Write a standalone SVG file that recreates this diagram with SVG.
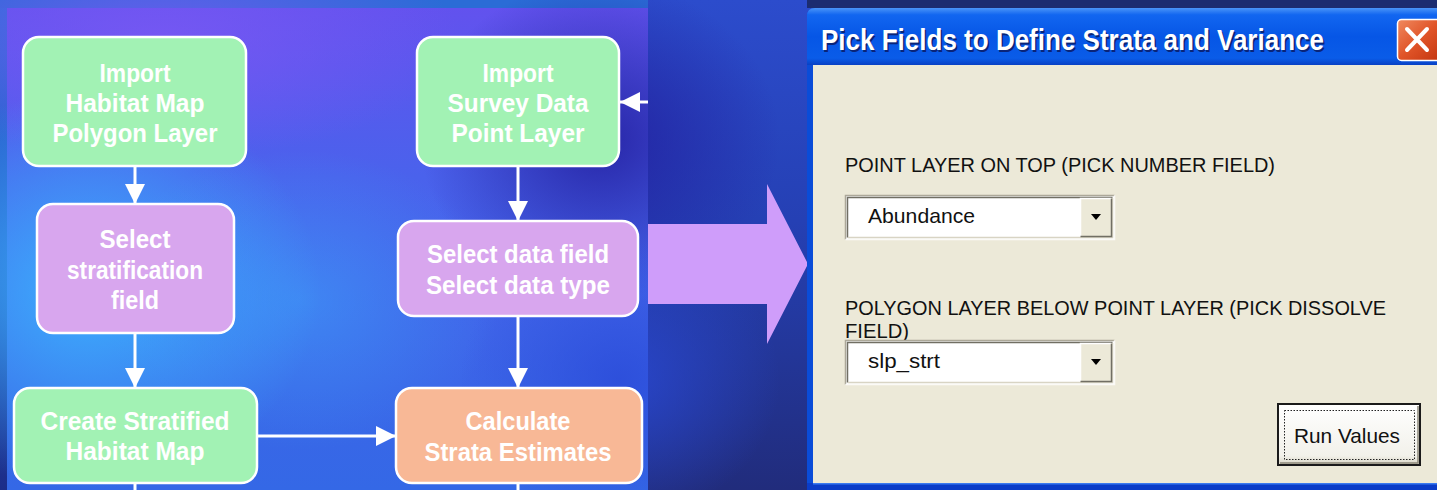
<svg xmlns="http://www.w3.org/2000/svg" width="1437" height="490" viewBox="0 0 1437 490">
  <defs>
    <linearGradient id="pageBg" x1="0" y1="0" x2="0" y2="1">
      <stop offset="0" stop-color="#2c4ccc"/>
      <stop offset="0.45" stop-color="#2540b4"/>
      <stop offset="1" stop-color="#212c7c"/>
    </linearGradient>
    <linearGradient id="edgeBg" x1="0" y1="0" x2="0" y2="1">
      <stop offset="0" stop-color="#2a70d8"/>
      <stop offset="0.5" stop-color="#2a58c8"/>
      <stop offset="1" stop-color="#1c2c88"/>
    </linearGradient>
    <linearGradient id="panelBase" x1="0" y1="0" x2="0" y2="1">
      <stop offset="0" stop-color="#6252ee"/>
      <stop offset="0.35" stop-color="#4a62ec"/>
      <stop offset="1" stop-color="#3468e6"/>
    </linearGradient>
    <radialGradient id="glowCyan" cx="0.5" cy="0.5" r="0.5">
      <stop offset="0" stop-color="#3cb4ff" stop-opacity="0.95"/>
      <stop offset="1" stop-color="#3cb4ff" stop-opacity="0"/>
    </radialGradient>
    <radialGradient id="glowDark" cx="0.5" cy="0.5" r="0.5">
      <stop offset="0" stop-color="#2320a0" stop-opacity="0.9"/>
      <stop offset="1" stop-color="#2320a0" stop-opacity="0"/>
    </radialGradient>
    <radialGradient id="glowPurple" cx="0.5" cy="0.5" r="0.5">
      <stop offset="0" stop-color="#7a58f4" stop-opacity="0.8"/>
      <stop offset="1" stop-color="#7a58f4" stop-opacity="0"/>
    </radialGradient>
    <radialGradient id="glowBlue" cx="0.5" cy="0.5" r="0.5">
      <stop offset="0" stop-color="#2a4ad8" stop-opacity="0.8"/>
      <stop offset="1" stop-color="#2a4ad8" stop-opacity="0"/>
    </radialGradient>
    <linearGradient id="titleBar" x1="0" y1="0" x2="0" y2="1">
      <stop offset="0" stop-color="#4a94f8"/>
      <stop offset="0.12" stop-color="#1266f0"/>
      <stop offset="0.5" stop-color="#0656e6"/>
      <stop offset="0.88" stop-color="#0a5ce8"/>
      <stop offset="1" stop-color="#0840c4"/>
    </linearGradient>
    <linearGradient id="closeBtn" x1="0" y1="0" x2="1" y2="1">
      <stop offset="0" stop-color="#f08a60"/>
      <stop offset="0.5" stop-color="#e05428"/>
      <stop offset="1" stop-color="#c2340e"/>
    </linearGradient>
    <linearGradient id="runBtn" x1="0" y1="0" x2="0" y2="1">
      <stop offset="0" stop-color="#ffffff"/>
      <stop offset="0.85" stop-color="#f2f1ea"/>
      <stop offset="1" stop-color="#d8d4c4"/>
    </linearGradient>
    <marker id="arrow" viewBox="0 0 10 10" refX="10" refY="5" markerWidth="20" markerHeight="20" markerUnits="userSpaceOnUse" orient="auto">
      <path d="M0,0 L10,5 L0,10 z" fill="#ffffff"/>
    </marker>
    <style>
      .node rect { stroke: #ffffff; stroke-width: 2.5; }
      .green { fill: #a2f2b4; }
      .purple { fill: #d8a6ee; }
      .orange { fill: #f8b896; }
      .label { font-family: "Liberation Sans", Arial, sans-serif; font-weight: bold; font-size: 26px; fill: #ffffff; text-anchor: middle; }
      .link { fill: none; stroke: #ffffff; stroke-width: 3; }
      .dlg { font-family: "Liberation Sans", Arial, sans-serif; font-size: 21px; fill: #111111; }
      .title { font-family: "Liberation Sans", Arial, sans-serif; font-weight: bold; font-size: 29px; fill: #ffffff; }
    </style>
  </defs>

  <!-- page background -->
  <rect x="0" y="0" width="1437" height="490" fill="url(#pageBg)"/>
  <rect x="0" y="0" width="7" height="490" fill="url(#edgeBg)"/>
  <rect x="0" y="0" width="648" height="8" fill="#2a6cd6"/>
  <rect x="807" y="0" width="630" height="8" fill="#1c2c70"/>

  <!-- flowchart panel backdrop -->
  <g id="panel">
    <rect x="7" y="8" width="641" height="482" fill="url(#panelBase)"/>
    <ellipse cx="160" cy="40" rx="300" ry="120" fill="url(#glowPurple)"/>
    <ellipse cx="90" cy="290" rx="230" ry="200" fill="url(#glowCyan)"/>
    <ellipse cx="300" cy="300" rx="200" ry="150" fill="url(#glowCyan)" opacity="0.45"/>
    <ellipse cx="600" cy="140" rx="180" ry="160" fill="url(#glowDark)"/>
    <ellipse cx="620" cy="380" rx="160" ry="140" fill="url(#glowBlue)"/>
  </g>

  <!-- flowchart steps -->
  <g id="import-habitat" class="node">
    <rect class="green" x="23" y="37" width="223" height="129" rx="16"/>
    <text class="label" x="135" y="82" textLength="71" lengthAdjust="spacingAndGlyphs">Import</text>
    <text class="label" x="135" y="112" textLength="139" lengthAdjust="spacingAndGlyphs">Habitat Map</text>
    <text class="label" x="135" y="142" textLength="165" lengthAdjust="spacingAndGlyphs">Polygon Layer</text>
  </g>
  <g id="import-survey" class="node">
    <rect class="green" x="417" y="37" width="202" height="129" rx="16"/>
    <text class="label" x="518" y="82" textLength="71" lengthAdjust="spacingAndGlyphs">Import</text>
    <text class="label" x="518" y="112" textLength="141" lengthAdjust="spacingAndGlyphs">Survey Data</text>
    <text class="label" x="518" y="142" textLength="133" lengthAdjust="spacingAndGlyphs">Point Layer</text>
  </g>
  <g id="select-strat" class="node">
    <rect class="purple" x="37" y="204" width="197" height="129" rx="16"/>
    <text class="label" x="135" y="248" textLength="71" lengthAdjust="spacingAndGlyphs">Select</text>
    <text class="label" x="135" y="279" textLength="136" lengthAdjust="spacingAndGlyphs">stratification</text>
    <text class="label" x="135" y="309" textLength="48" lengthAdjust="spacingAndGlyphs">field</text>
  </g>
  <g id="select-data" class="node">
    <rect class="purple" x="398" y="221" width="240" height="95" rx="16"/>
    <text class="label" x="518" y="263" textLength="182" lengthAdjust="spacingAndGlyphs">Select data field</text>
    <text class="label" x="518" y="294" textLength="184" lengthAdjust="spacingAndGlyphs">Select data type</text>
  </g>
  <g id="create-map" class="node">
    <rect class="green" x="14" y="388" width="243" height="95" rx="16"/>
    <text class="label" x="135" y="430" textLength="189" lengthAdjust="spacingAndGlyphs">Create Stratified</text>
    <text class="label" x="135" y="460" textLength="139" lengthAdjust="spacingAndGlyphs">Habitat Map</text>
  </g>
  <g id="calc-estimates" class="node">
    <rect class="orange" x="396" y="388" width="246" height="95" rx="16"/>
    <text class="label" x="518" y="430" textLength="105" lengthAdjust="spacingAndGlyphs">Calculate</text>
    <text class="label" x="518" y="461" textLength="187" lengthAdjust="spacingAndGlyphs">Strata Estimates</text>
  </g>

  <!-- connectors -->
  <g id="connectors">
    <path class="link" d="M135,167 V204" marker-end="url(#arrow)"/>
    <path class="link" d="M518,167 V221" marker-end="url(#arrow)"/>
    <path class="link" d="M135,334 V388" marker-end="url(#arrow)"/>
    <path class="link" d="M518,317 V388" marker-end="url(#arrow)"/>
    <path class="link" d="M258,436 H396" marker-end="url(#arrow)"/>
    <path class="link" d="M648,102 H620" marker-end="url(#arrow)"/>
    <path class="link" d="M135,484 V490"/>
    <path class="link" d="M518,484 V490"/>
  </g>

  <!-- block arrow pointing to the dialog -->
  <g id="block-arrow">
    <polygon points="648,224 767,224 767,184 808,264 767,344 767,304 648,304" fill="#cf9dfa"/>
  </g>

  <!-- dialog window -->
  <g id="dialog">
    <path d="M807,490 V16 Q807,8 815,8 H1437 V490 Z" fill="#0a4cd8"/>
    <path d="M807,65 V16 Q807,8 815,8 H1437 V65 Z" fill="url(#titleBar)"/>
    <rect x="813" y="65" width="624" height="418" fill="#ece9d8"/>
    <rect x="807" y="483" width="630" height="7" fill="#0a3cc8"/>
    <rect x="813" y="483" width="624" height="1.5" fill="#3a7af0"/>

    <text class="title" x="822.5" y="51.5" textLength="503" lengthAdjust="spacingAndGlyphs" style="fill:#0a2478">Pick Fields to Define Strata and Variance</text>
    <text class="title" x="821" y="50" textLength="503" lengthAdjust="spacingAndGlyphs">Pick Fields to Define Strata and Variance</text>

    <g id="close-button">
      <rect x="1397.5" y="19.5" width="44" height="41" rx="4" fill="url(#closeBtn)" stroke="#ffffff" stroke-width="1.5"/>
      <path d="M1407,29 L1427,50 M1427,29 L1407,50" stroke="#ffffff" stroke-width="4" stroke-linecap="round"/>
    </g>

    <text class="dlg" x="845" y="172" textLength="430" lengthAdjust="spacingAndGlyphs">POINT LAYER ON TOP (PICK NUMBER FIELD)</text>

    <g id="number-field">
      <rect x="845" y="195" width="270" height="45" fill="#ffffff"/>
      <path d="M845.5,239.5 V195.5 H1114.5" fill="none" stroke="#aca899" stroke-width="1.5"/>
      <path d="M847.5,237.5 V197.5 H1112.5" fill="none" stroke="#716f64" stroke-width="1.5"/>
      <path d="M845.5,239.5 H1114.5 V195.5" fill="none" stroke="#fbfaf6" stroke-width="1.5"/>
      <path d="M848,237.5 H1112.5 V198" fill="none" stroke="#d8d4c4" stroke-width="1.5"/>
      <rect x="1080" y="198" width="32" height="39" fill="#ece9d8"/>
      <path d="M1080.5,236.5 V198.5 H1111.5" fill="none" stroke="#ffffff" stroke-width="1.5"/>
      <path d="M1080.5,236.5 H1111.5 V198.5" fill="none" stroke="#716f64" stroke-width="1.5"/>
      <polygon points="1091,214 1101,214 1096,220" fill="#000000"/>
      <text class="dlg" x="868" y="223" textLength="107" lengthAdjust="spacingAndGlyphs">Abundance</text>
    </g>

    <text class="dlg" x="845" y="315" textLength="541" lengthAdjust="spacingAndGlyphs">POLYGON LAYER BELOW POINT LAYER  (PICK DISSOLVE</text>
    <text class="dlg" x="845" y="338" textLength="64" lengthAdjust="spacingAndGlyphs">FIELD)</text>

    <g id="dissolve-field">
      <rect x="845" y="340" width="270" height="45" fill="#ffffff"/>
      <path d="M845.5,384.5 V340.5 H1114.5" fill="none" stroke="#aca899" stroke-width="1.5"/>
      <path d="M847.5,382.5 V342.5 H1112.5" fill="none" stroke="#716f64" stroke-width="1.5"/>
      <path d="M845.5,384.5 H1114.5 V340.5" fill="none" stroke="#fbfaf6" stroke-width="1.5"/>
      <path d="M848,382.5 H1112.5 V343" fill="none" stroke="#d8d4c4" stroke-width="1.5"/>
      <rect x="1080" y="343" width="32" height="39" fill="#ece9d8"/>
      <path d="M1080.5,381.5 V343.5 H1111.5" fill="none" stroke="#ffffff" stroke-width="1.5"/>
      <path d="M1080.5,381.5 H1111.5 V343.5" fill="none" stroke="#716f64" stroke-width="1.5"/>
      <polygon points="1091,359 1101,359 1096,365" fill="#000000"/>
      <text class="dlg" x="868" y="368" textLength="72" lengthAdjust="spacingAndGlyphs">slp_strt</text>
    </g>

    <g id="run-button">
      <rect x="1278" y="404" width="142" height="61" fill="url(#runBtn)" stroke="#1a1a1a" stroke-width="2"/>
      <path d="M1280,463 H1418 V406" fill="none" stroke="#8a8678" stroke-width="1.5"/>
      <rect x="1284.5" y="410.5" width="130" height="49" fill="none" stroke="#222222" stroke-width="1" stroke-dasharray="1.5,1.5"/>
      <text class="dlg" x="1294" y="443" textLength="106" lengthAdjust="spacingAndGlyphs">Run Values</text>
    </g>
  </g>
</svg>
